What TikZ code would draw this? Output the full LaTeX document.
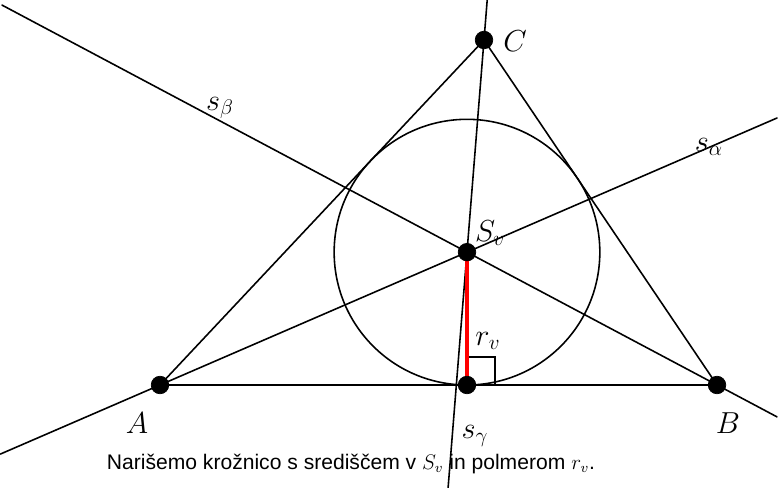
\documentclass[tikz,border=0pt]{standalone}
\usepackage{fontspec}
\newfontfamily\captionfont{Liberation Sans}
\usetikzlibrary{arrows,calc}
\usepackage{tkz-euclide}
\definecolor{RadiusClr}{rgb}{1,0,0}
\tikzset{lbl/.style={font=\LARGE,inner sep=1pt}}

\begin{document}
\begin{tikzpicture}
\useasboundingbox (0,0) rectangle (15.56,9.76);
\tkzSetUpLine[line width=0.9pt,color=black]
\tkzSetUpPoint[fill=black]

\tkzDefPoints{3.2/2.06/A,14.34/2.06/B,9.68/8.96/C}
\tkzDefTriangleCenter[in](A,B,C) \tkzGetPoint{Sv}
\tkzDefPointBy[projection=onto A--B](Sv) \tkzGetPoint{D}

% simetrale kotov
\tkzDrawLines[add=0.52 and 1.01](A,Sv)
\tkzDrawLines[add=0.24 and 1.86](B,Sv)
\tkzDrawLines[add=0.19 and 1.12](C,Sv)

\tkzDrawPolygon(A,B,C)
\tkzDrawCircle[color=black,line width=0.9pt](Sv,D)
\tkzMarkRightAngle[size=0.56,line width=0.9pt](Sv,D,B)
\tkzDrawSegment[color=RadiusClr,line width=1.8pt](Sv,D)

\tkzDrawPoints[size=10](A,B,C,Sv,D)

\node[lbl] (labA) at ($(A)+(-0.46,-0.76)$) {$A$};
\node[lbl] (labB) at ($(B)+(0.22,-0.76)$) {$B$};
\node[lbl] (labC) at ($(C)+(0.62,-0.02)$) {$C$};
\node[lbl] (labSv) at ($(Sv)+(0.46,0.38)$) {$S_v$};
\node[lbl] (labrv) at ($(D)+(0.42,0.88)$) {$r_v$};
\node[lbl] (labsb) at (4.40,7.60) {$s_\beta$};
\node[lbl] (labsa) at (14.18,6.82) {$s_\alpha$};
\node[lbl] (labsg) at (9.50,1.04) {$s_\gamma$};

\node[font=\captionfont\fontsize{12}{14}\selectfont] (txt) at (7.02,0.48)
  {Narišemo krožnico s središčem v $S_v$ in polmerom $r_v$.};
\end{tikzpicture}
\end{document}
